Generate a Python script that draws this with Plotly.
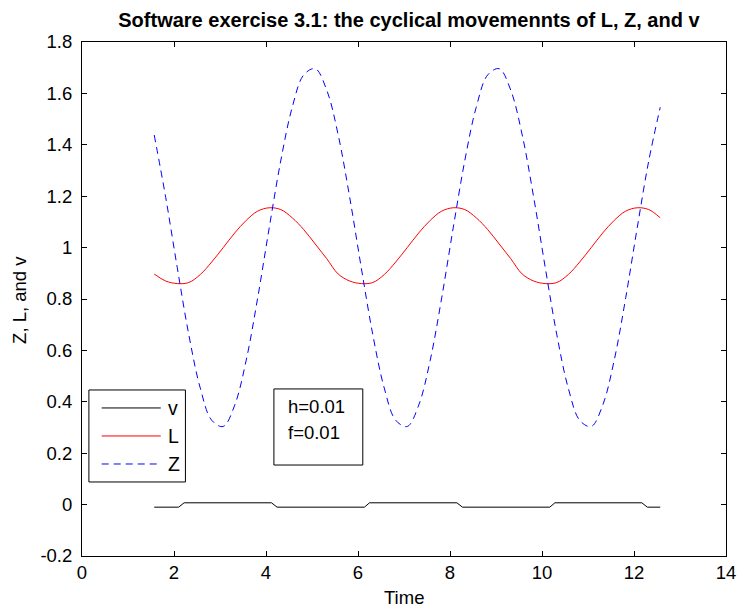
import plotly.graph_objects as go

# Time grid of the simulation output (pi/2 .. 4*pi)
time = [1.57, 1.82, 2.07, 2.32, 2.57, 2.82, 3.07, 3.32, 3.57, 3.82,
        4.07, 4.32, 4.57, 4.82, 5.07, 5.32, 5.57, 5.82, 6.07, 6.32,
        6.57, 6.82, 7.07, 7.32, 7.57, 7.82, 8.07, 8.32, 8.57, 8.82,
        9.07, 9.32, 9.57, 9.82, 10.07, 10.32, 10.57, 10.82, 11.07, 11.32,
        11.57, 11.82, 12.07, 12.32, 12.57]

# Z (dashed blue)
z_vals = [1.438, 1.195, 0.923, 0.663, 0.454, 0.328, 0.304, 0.387, 0.562, 0.805,
          1.077, 1.337, 1.546, 1.672, 1.696, 1.613, 1.438, 1.195, 0.923, 0.663,
          0.454, 0.328, 0.304, 0.387, 0.562, 0.805, 1.077, 1.337, 1.546, 1.672,
          1.696, 1.613, 1.438, 1.195, 0.923, 0.663, 0.454, 0.328, 0.304, 0.387,
          0.562, 0.805, 1.077, 1.337, 1.546]

# L (solid red)
l_vals = [0.897, 0.870, 0.860, 0.864, 0.895, 0.944, 1.000, 1.057, 1.106, 1.142,
          1.155, 1.148, 1.116, 1.070, 1.014, 0.957, 0.897, 0.870, 0.860, 0.864,
          0.895, 0.944, 1.000, 1.057, 1.106, 1.142, 1.155, 1.148, 1.116, 1.070,
          1.014, 0.957, 0.897, 0.870, 0.860, 0.864, 0.895, 0.944, 1.000, 1.057,
          1.106, 1.142, 1.155, 1.148, 1.116]

# v (solid black): switches between two levels
v_time = [1.57, 2.10, 2.22, 4.12, 4.24, 6.14, 6.25, 8.15, 8.27, 10.17,
          10.28, 12.17, 12.29, 12.57]
v_vals = [-0.010, -0.010, 0.007, 0.007, -0.010, -0.010, 0.007, 0.007, -0.010, -0.010,
          0.007, 0.007, -0.010, -0.010]

x_ticks = [0, 2, 4, 6, 8, 10, 12, 14]
y_ticks = [-0.2, 0, 0.2, 0.4, 0.6, 0.8, 1, 1.2, 1.4, 1.6, 1.8]
y_tick_text = ["-0.2", "0", "0.2", "0.4", "0.6", "0.8", "1", "1.2", "1.4", "1.6", "1.8"]

series_names = ["v", "L", "Z"]
series_colors = ["#000000", "#FF0000", "#0000FF"]
series_dash = ["solid", "solid", "7px,5px"]
param_text = ["h=0.01", "f=0.01"]

FONT = "Liberation Sans, Arial, sans-serif"
FS = 18.5

fig = go.Figure()
fig.add_trace(go.Scatter(x=v_time, y=v_vals, mode="lines", name=series_names[0],
                         line=dict(color=series_colors[0], width=1, dash=series_dash[0])))
fig.add_trace(go.Scatter(x=time, y=l_vals, mode="lines", name=series_names[1],
                         line=dict(color=series_colors[1], width=1, dash=series_dash[1],
                                   shape="spline")))
fig.add_trace(go.Scatter(x=time, y=z_vals, mode="lines", name=series_names[2],
                         line=dict(color=series_colors[2], width=1, dash=series_dash[2],
                                   shape="spline")))

axis_common = dict(showgrid=False, zeroline=False, showline=True, linecolor="black",
                   linewidth=1, mirror="allticks", ticks="inside", ticklen=5,
                   tickcolor="black", tickwidth=1,
                   tickfont=dict(family=FONT, size=FS, color="black"))

fig.update_xaxes(range=[0, 14], tickvals=x_ticks, **axis_common)
fig.update_yaxes(range=[-0.2, 1.8], tickvals=y_ticks, ticktext=y_tick_text,
                 ticklabelstandoff=5, **axis_common)

shapes = []
annotations = []

# Legend box drawn in paper coordinates
shapes.append(dict(type="rect", xref="paper", yref="paper", x0=0.0107, x1=0.1606,
                   y0=0.144, y1=0.323, line=dict(color="black", width=1),
                   fillcolor="white", layer="above"))
legend_rows = [0.288, 0.2335, 0.179]
for name, color, dash, yy in zip(series_names, series_colors, series_dash, legend_rows):
    shapes.append(dict(type="line", xref="paper", yref="paper", x0=0.0306, x1=0.1223,
                       y0=yy, y1=yy, line=dict(color=color, width=1, dash=dash),
                       layer="above"))
    annotations.append(dict(text=name, xref="paper", yref="paper", x=0.131, y=yy,
                            xanchor="left", yanchor="middle", showarrow=False,
                            font=dict(family=FONT, size=FS + 1, color="black")))

# Parameter text box
shapes.append(dict(type="rect", xref="paper", yref="paper", x0=0.298, x1=0.436,
                   y0=0.177, y1=0.325, line=dict(color="black", width=1),
                   fillcolor="rgba(0,0,0,0)", layer="above"))
for txt, yy in zip(param_text, [0.290, 0.241]):
    annotations.append(dict(text=txt, xref="paper", yref="paper", x=0.3165, y=yy,
                            xanchor="left", yanchor="middle", showarrow=False,
                            font=dict(family=FONT, size=FS, color="black")))

# Axis titles
annotations.append(dict(text="Time", xref="paper", yref="paper", x=0.5, y=-0.0817,
                        xanchor="center", yanchor="middle", showarrow=False,
                        font=dict(family=FONT, size=FS, color="black")))
annotations.append(dict(text="Z, L, and v", xref="paper", yref="paper", x=-0.098, y=0.498,
                        xanchor="center", yanchor="middle", showarrow=False, textangle=-90,
                        font=dict(family=FONT, size=FS, color="black")))

fig.update_layout(
    width=748, height=608,
    margin=dict(l=82, r=12, t=42, b=52),
    paper_bgcolor="white", plot_bgcolor="white",
    showlegend=False,
    title=dict(text="<b>Software exercise 3.1: the cyclical movemennts of L, Z, and v</b>",
               x=0.5467, xanchor="center", y=1 - 20 / 608, yanchor="middle",
               font=dict(family=FONT, size=20, color="black")),
    shapes=shapes,
    annotations=annotations,
)

fig.write_html("out.html")
